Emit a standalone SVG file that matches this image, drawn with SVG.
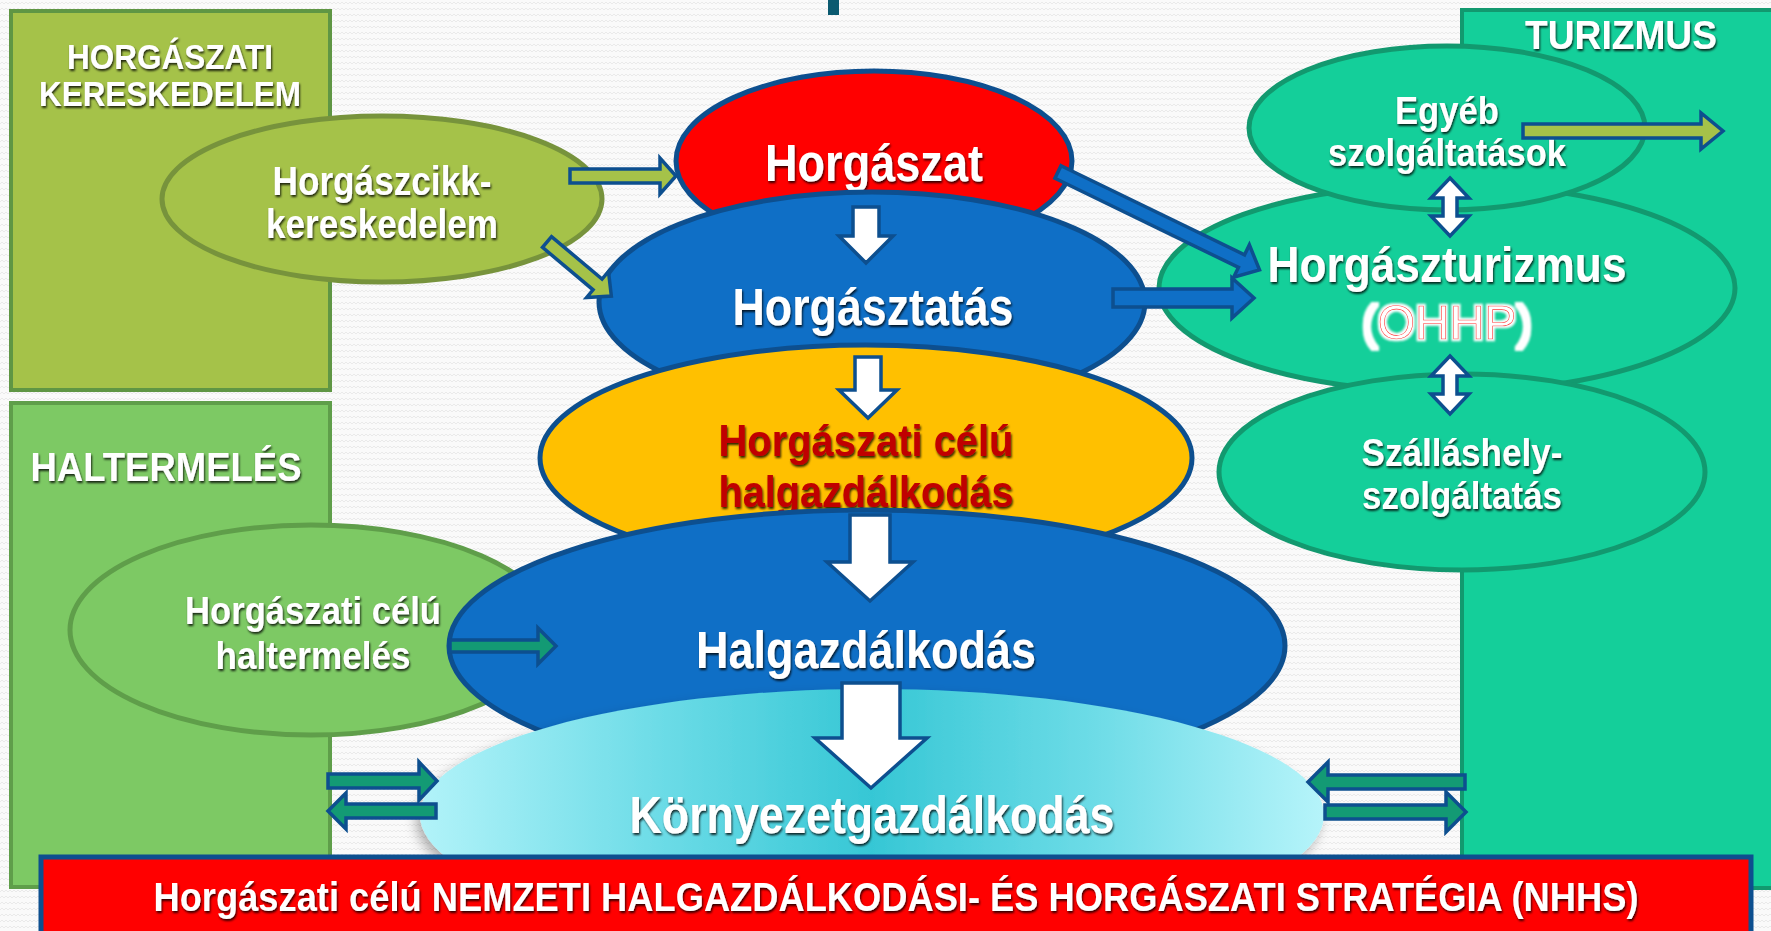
<svg xmlns="http://www.w3.org/2000/svg" width="1771" height="931" viewBox="0 0 1771 931">
<defs>
<pattern id="bgp" width="8" height="6" patternUnits="userSpaceOnUse">
<rect width="8" height="6" fill="#fafafa"/>
<path d="M0 4 L2 2 L4 4 L6 2 L8 4" fill="none" stroke="#e6e6e6" stroke-width="0.8"/>
</pattern>
<linearGradient id="cyan" x1="0" y1="0" x2="1" y2="0">
<stop offset="0" stop-color="#b2f3f9"/>
<stop offset="0.25" stop-color="#70dde8"/>
<stop offset="0.5" stop-color="#36c7d5"/>
<stop offset="0.75" stop-color="#6edce7"/>
<stop offset="1" stop-color="#b6f4fa"/>
</linearGradient>
<filter id="sh" x="-10%" y="-30%" width="120%" height="160%">
<feGaussianBlur in="SourceAlpha" stdDeviation="1.3" result="b"/>
<feOffset in="b" dx="1" dy="1.5" result="o"/>
<feFlood flood-color="#000" flood-opacity="0.8"/>
<feComposite in2="o" operator="in" result="s"/>
<feMerge><feMergeNode in="s"/><feMergeNode in="SourceGraphic"/></feMerge>
</filter>
<filter id="halo" x="-10%" y="-30%" width="120%" height="160%">
<feMorphology in="SourceAlpha" operator="dilate" radius="1.5" result="d"/>
<feGaussianBlur in="d" stdDeviation="1" result="b"/>
<feFlood flood-color="#fff"/>
<feComposite in2="b" operator="in" result="s"/>
<feMerge><feMergeNode in="s"/><feMergeNode in="SourceGraphic"/></feMerge>
</filter>
<filter id="esh" x="-10%" y="-20%" width="120%" height="150%">
<feDropShadow dx="-4" dy="6" stdDeviation="6" flood-color="#000" flood-opacity="0.3"/>
</filter>
<style>
text{font-family:"Liberation Sans",Arial,sans-serif;font-weight:bold;text-anchor:middle}
.w{fill:#fff;filter:url(#sh)}
.rd{fill:#c00000;filter:url(#sh)}
.blue{fill:#0f6fc6;stroke:#0d4f8f;stroke-width:5}
.teal{fill:#14cf9a;stroke:#12996f;stroke-width:5}
.arr{stroke:#0d4f8f;stroke-width:3.5;stroke-linejoin:miter}
.ag{fill:#a5c249}
.ab{fill:#0f6fc6}
.at{fill:#139a74}
.aw{fill:#fff}
</style>
</defs>
<rect width="1771" height="931" fill="url(#bgp)"/>
<rect x="828" y="0" width="11" height="15" fill="#0b5a70"/>

<g id="kereskedelem-box">
<rect x="11" y="11" width="319" height="379" fill="#a5c249" stroke="#5f9644" stroke-width="4"/>
<text class="w" x="170" y="69" font-size="35" textLength="206" lengthAdjust="spacingAndGlyphs">HORGÁSZATI</text>
<text class="w" x="170" y="106" font-size="35" textLength="262" lengthAdjust="spacingAndGlyphs">KERESKEDELEM</text>
</g>
<g id="haltermeles-box">
<rect x="11" y="403" width="319" height="484" fill="#7dc964" stroke="#5f9e4a" stroke-width="4"/>
<text class="w" x="166" y="481" font-size="41" textLength="271" lengthAdjust="spacingAndGlyphs">HALTERMELÉS</text>
</g>
<g id="turizmus-box">
<rect x="1462" y="10" width="320" height="878" fill="#14cf9a" stroke="#12996f" stroke-width="4"/>
<text class="w" x="1621" y="49" font-size="41" textLength="192" lengthAdjust="spacingAndGlyphs">TURIZMUS</text>
</g>

<g id="horgaszcikk">
<ellipse cx="382" cy="199" rx="220" ry="83" fill="#a5c249" stroke="#77933c" stroke-width="5"/>
<text class="w" x="382" y="195" font-size="40" textLength="219" lengthAdjust="spacingAndGlyphs">Horgászcikk-</text>
<text class="w" x="382" y="238" font-size="40" textLength="232" lengthAdjust="spacingAndGlyphs">kereskedelem</text>
</g>
<g id="haltermeles">
<ellipse cx="311" cy="630" rx="241" ry="105" fill="#7dc964" stroke="#5f9e4a" stroke-width="5"/>
<text class="w" x="313" y="624" font-size="39" textLength="256" lengthAdjust="spacingAndGlyphs">Horgászati célú</text>
<text class="w" x="313" y="669" font-size="39" textLength="195" lengthAdjust="spacingAndGlyphs">haltermelés</text>
</g>

<g id="horgaszturizmus">
<ellipse cx="1447" cy="288" rx="288" ry="104" class="teal"/>
<text class="w" x="1447" y="282" font-size="50" textLength="359" lengthAdjust="spacingAndGlyphs">Horgászturizmus</text>
<text x="1447" y="339" font-size="48" style="font-weight:normal;filter:url(#halo)"><tspan fill="#fff">(</tspan><tspan fill="#fff" stroke="#ff2020" stroke-width="0.6">OHHP</tspan><tspan fill="#fff">)</tspan></text>
</g>
<g id="egyeb">
<ellipse cx="1447" cy="128" rx="198" ry="82" class="teal"/>
<text class="w" x="1447" y="124" font-size="38" textLength="104" lengthAdjust="spacingAndGlyphs">Egyéb</text>
<text class="w" x="1447" y="166" font-size="38" textLength="238" lengthAdjust="spacingAndGlyphs">szolgáltatások</text>
</g>
<g id="szallashely">
<ellipse cx="1462" cy="472" rx="243" ry="98" class="teal"/>
<text class="w" x="1462" y="466" font-size="38" textLength="201" lengthAdjust="spacingAndGlyphs">Szálláshely-</text>
<text class="w" x="1462" y="509" font-size="38" textLength="200" lengthAdjust="spacingAndGlyphs">szolgáltatás</text>
</g>

<g id="horgaszat">
<ellipse cx="874" cy="161" rx="198" ry="90" fill="#ff0000" stroke="#0d4f8f" stroke-width="5"/>
<text class="w" x="874" y="181" font-size="51" textLength="218" lengthAdjust="spacingAndGlyphs">Horgászat</text>
</g>
<g id="horgasztatas">
<ellipse cx="872" cy="302" rx="273" ry="110" class="blue"/>
<text class="w" x="873" y="325" font-size="51" textLength="281" lengthAdjust="spacingAndGlyphs">Horgásztatás</text>
</g>
<g id="horgaszati-celu-halgazdalkodas">
<ellipse cx="866" cy="458" rx="326" ry="113" fill="#ffc000" stroke="#0d4f8f" stroke-width="5"/>
<text class="rd" x="866" y="456" font-size="45" textLength="295" lengthAdjust="spacingAndGlyphs">Horgászati célú</text>
<text class="rd" x="866" y="507" font-size="45" textLength="295" lengthAdjust="spacingAndGlyphs">halgazdálkodás</text>
</g>
<g id="halgazdalkodas">
<ellipse cx="867" cy="646" rx="418" ry="136" class="blue"/>
<text class="w" x="866" y="668" font-size="51" textLength="340" lengthAdjust="spacingAndGlyphs">Halgazdálkodás</text>
</g>
<g id="kornyezetgazdalkodas">
<ellipse cx="872" cy="815" rx="452" ry="126" fill="url(#cyan)" filter="url(#esh)"/>
<text class="w" x="872" y="833" font-size="51" textLength="485" lengthAdjust="spacingAndGlyphs">Környezetgazdálkodás</text>
</g>
<g id="nhhs">
<rect x="41" y="857" width="1710" height="84" fill="#ff0000" stroke="#0d4f8f" stroke-width="5"/>
<text class="w" x="896" y="911" font-size="41" textLength="1485" lengthAdjust="spacingAndGlyphs">Horgászati célú NEMZETI HALGAZDÁLKODÁSI- ÉS HORGÁSZATI STRATÉGIA (NHHS)</text>
</g>

<g id="connectors" class="arr">
<polygon class="ag" points="570,169 660,169 660,158 676,176 660,194 660,183 570,183"/>
<polygon class="ag" transform="translate(547,242) rotate(40)" points="0,-7 66,-7 66,-17 84,0 66,17 66,7 0,7"/>
<polygon class="aw" points="853,207 879,207 879,236 893,236 866,263 839,236 853,236"/>
<polygon class="aw" points="855,357 881,357 881,390 897,390 868,418 839,390 855,390"/>
<polygon class="aw" points="850,515 890,515 890,562 913,562 870,601 827,562 850,562"/>
<polygon class="aw" points="842,683 900,683 900,738 927,738 871,788 815,738 842,738"/>
<polygon class="ab" transform="translate(1058,172) rotate(25.9)" points="0,-7 204,-7 204,-18 224,0 204,18 204,7 0,7"/>
<polygon class="ab" points="1113,289 1232,289 1232,278 1254,298 1232,318 1232,307 1113,307"/>
<polygon class="ag" points="1523,124 1701,124 1701,113 1723,131 1701,149 1701,138 1523,138"/>
<polygon class="aw" points="1450,178 1469,198 1457,198 1457,216 1469,216 1450,236 1431,216 1443,216 1443,198 1431,198"/>
<polygon class="aw" points="1450,356 1469,376 1457,376 1457,394 1469,394 1450,414 1431,394 1443,394 1443,376 1431,376"/>
<polygon class="at" points="450,640 538,640 538,628 556,646 538,664 538,652 450,652"/>
<polygon class="at" points="328,774 419,774 419,762 437,781 419,800 419,788 328,788"/>
<polygon class="at" points="436,804 346,804 346,793 328,811 346,829 346,818 436,818"/>
<polygon class="at" points="1465,775 1328,775 1328,762 1308,782 1328,802 1328,789 1465,789"/>
<polygon class="at" points="1325,805 1446,805 1446,792 1466,812 1446,832 1446,819 1325,819"/>
</g>
</svg>
